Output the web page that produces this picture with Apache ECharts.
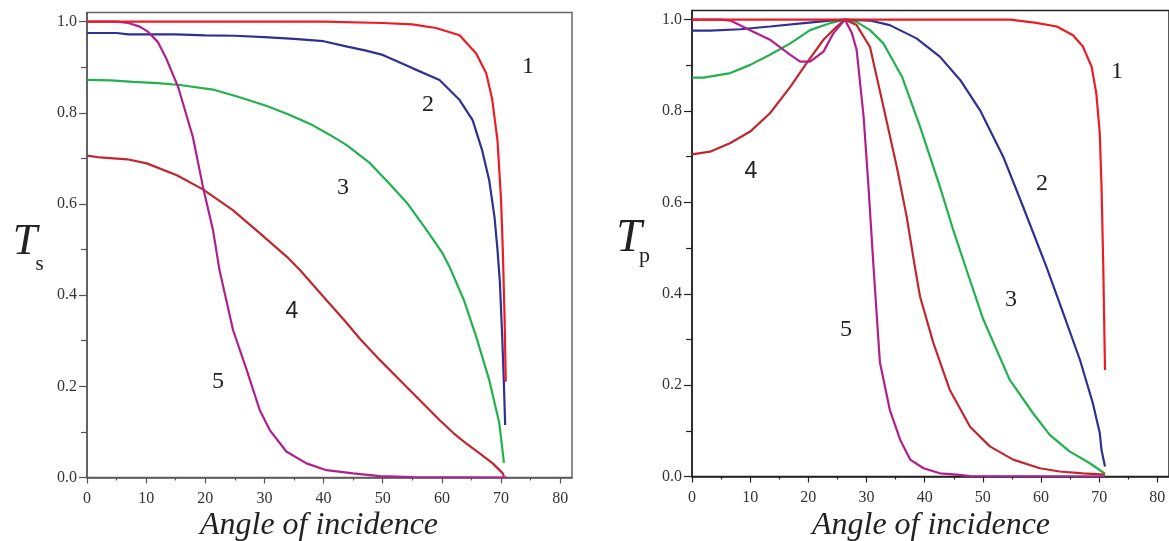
<!DOCTYPE html>
<html>
<head>
<meta charset="utf-8">
<script src="https://cdn.jsdelivr.net/npm/echarts@6/dist/echarts.min.js"></script>
<style>
  html, body { margin: 0; padding: 0; background: #fff; }
  #main { width: 1169px; height: 541px; }
</style>
</head>
<body>
<div id="main"></div>
<script>
// tick values
var xTicks = [0, 10, 20, 30, 40, 50, 60, 70, 80];
var xMinor = [5, 15, 25, 35, 45, 55, 65, 75];
var yTicks = [0, 0.2, 0.4, 0.6, 0.8, 1.0];
var yMinor = [0.1, 0.3, 0.5, 0.7, 0.9];

// T_s curves  [angle, T]
var ts1 = [[0,1],[20,1],[40,1],[50,0.997],[55,0.994],[59,0.986],[63,0.97],[65.8,0.93],[67.5,0.887],[68.5,0.83],[69.4,0.74],[70,0.61],[70.3,0.5],[70.6,0.35],[70.8,0.21]];
var ts2 = [[0,0.975],[5,0.975],[7,0.972],[15,0.972],[20,0.97],[25,0.969],[30,0.966],[35,0.962],[40,0.957],[44,0.945],[47,0.937],[50,0.927],[55,0.898],[59.6,0.872],[63,0.828],[65.2,0.784],[66.8,0.718],[68,0.652],[68.9,0.571],[69.4,0.5],[69.8,0.43],[70.2,0.31],[70.5,0.2],[70.7,0.115]];
var ts3 = [[0,0.872],[4,0.871],[7.8,0.868],[12,0.865],[15.7,0.861],[21.3,0.851],[25.8,0.834],[30.4,0.815],[34,0.797],[38.1,0.773],[41,0.752],[43.9,0.729],[47.8,0.69],[51.1,0.645],[54,0.604],[57.4,0.543],[60.1,0.492],[61.3,0.462],[63.7,0.39],[65.8,0.309],[68,0.214],[69.7,0.12],[70.5,0.032]];
var ts4 = [[0,0.706],[2.2,0.702],[6.8,0.698],[10.1,0.689],[15.2,0.663],[19.6,0.632],[24.6,0.587],[29.2,0.536],[33.8,0.484],[36,0.455],[40.5,0.389],[43.5,0.345],[46.1,0.305],[49.5,0.258],[54,0.199],[59.6,0.126],[62,0.097],[64.1,0.075],[66.5,0.052],[68.6,0.031],[70.3,0.009],[70.5,0.002]];
var ts5 = [[0,1],[5,1],[7,0.997],[8.9,0.989],[10.3,0.978],[12,0.955],[13.4,0.919],[15.4,0.857],[17.9,0.747],[19.6,0.638],[21.3,0.543],[22.4,0.455],[24.7,0.323],[27,0.236],[29.2,0.148],[30.9,0.104],[33.7,0.057],[37.1,0.031],[40.5,0.016],[45,0.009],[49.5,0.003],[55,0.001],[71,0]];

// T_p curves
var tp1 = [[0,1],[30,1],[54.7,1],[59.2,0.993],[62.7,0.985],[65.5,0.966],[67.2,0.941],[68.7,0.897],[69.5,0.839],[70.1,0.751],[70.4,0.635],[70.7,0.46],[71,0.233]];
var tp2 = [[0,0.976],[3.1,0.976],[8.3,0.979],[13.4,0.985],[19.7,0.993],[23.7,0.998],[26.3,1],[30.6,0.998],[34,0.988],[38.6,0.959],[42.6,0.919],[46.1,0.868],[49.5,0.802],[53.5,0.7],[56.9,0.591],[60.9,0.46],[63.8,0.358],[66.7,0.255],[68.9,0.161],[70.1,0.095],[70.4,0.058],[71,0.022]];
var tp3 = [[0,0.873],[2,0.873],[6.6,0.883],[10,0.901],[13.4,0.923],[16.9,0.948],[20.3,0.977],[23.7,0.992],[26.3,1],[28.3,0.995],[30.6,0.977],[32.9,0.948],[36.1,0.875],[39.2,0.766],[42.6,0.635],[44.9,0.54],[47.2,0.452],[50.1,0.343],[54.6,0.212],[58.6,0.139],[61.5,0.091],[64.9,0.055],[68.4,0.029],[71,0.006]];
var tp4 = [[0,0.705],[3.1,0.711],[6.6,0.73],[10,0.755],[13.4,0.795],[16.9,0.853],[19.7,0.905],[22.6,0.956],[24.9,0.985],[26.3,1],[28.3,0.988],[30.6,0.94],[32.9,0.81],[35.2,0.678],[36.9,0.569],[38.3,0.46],[39.2,0.394],[41.5,0.292],[44.3,0.19],[47.8,0.109],[51.2,0.066],[55.2,0.037],[59.8,0.018],[63.2,0.011],[67.2,0.007],[71,0.004]];
var tp5 = [[0,1],[5,1],[6.6,0.998],[10,0.977],[13.4,0.956],[16.9,0.923],[18.6,0.908],[20.3,0.908],[22.6,0.93],[24.3,0.97],[26.3,1],[27.5,0.97],[28.3,0.934],[29.5,0.788],[30.3,0.642],[31.2,0.46],[32.3,0.25],[34,0.146],[35.8,0.08],[37.5,0.037],[39.8,0.018],[42.6,0.007],[45.5,0.004],[47.8,0.001],[71,0]];

var colors = ['#ed1c24', '#2e3192', '#22b14c', '#c1272d', '#b01f8e'];
var serif = '"Liberation Serif", "DejaVu Serif", serif';

function mainX(grid, axisColor) {
  return {
    type: 'value', gridIndex: grid, min: 0, max: 82, position: 'bottom',
    axisLine: { onZero: false, lineStyle: { color: axisColor, width: 1.5 } },
    axisTick: { customValues: xTicks, length: 6, lineStyle: { color: axisColor, width: 1.2 } },
    axisLabel: { customValues: xTicks, margin: 13, fontFamily: serif, fontSize: 16, color: '#333' },
    splitLine: { show: false }
  };
}
function mainY(grid, axisColor) {
  return {
    type: 'value', gridIndex: grid, min: 0, max: 1.02, position: 'left',
    axisLine: { onZero: false, lineStyle: { color: axisColor, width: 1.5 } },
    axisTick: { customValues: yTicks, length: 8, lineStyle: { color: axisColor, width: 1.2 } },
    axisLabel: { customValues: yTicks, margin: 10, fontFamily: serif, fontSize: 16, color: '#333',
      formatter: function (v) { return v.toFixed(1); } },
    splitLine: { show: false }
  };
}
function minorX(grid, axisColor) {
  return {
    type: 'value', gridIndex: grid, min: 0, max: 82, position: 'bottom',
    axisLine: { show: false, onZero: false },
    axisTick: { customValues: xMinor, length: 3, lineStyle: { color: axisColor, width: 1.2 } },
    axisLabel: { show: false }, splitLine: { show: false }
  };
}
function minorY(grid, axisColor) {
  return {
    type: 'value', gridIndex: grid, min: 0, max: 1.02, position: 'left',
    axisLine: { show: false, onZero: false },
    axisTick: { customValues: yMinor, length: 6, lineStyle: { color: axisColor, width: 1.2 } },
    axisLabel: { show: false }, splitLine: { show: false }
  };
}

function line(data, idx, axis) {
  return {
    type: 'line', data: data, xAxisIndex: axis, yAxisIndex: axis,
    showSymbol: false, smooth: false,
    lineStyle: { color: colors[idx], width: 2.2 }
  };
}

function label(txt, x, y, size, family, style) {
  return {
    type: 'text', x: x, y: y, silent: true,
    style: {
      text: txt, fill: '#222', fontSize: size, fontFamily: family || serif,
      fontStyle: style || 'normal', align: 'center', verticalAlign: 'middle'
    }
  };
}

var chart = echarts.init(document.getElementById('main'));
chart.setOption({
  animation: false,
  backgroundColor: '#fff',
  grid: [
    { left: 87, top: 12.5, width: 485, height: 465, show: true, borderColor: '#666', borderWidth: 1.5 },
    { left: 692, top: 10.5, width: 478, height: 466, show: true, borderColor: '#222', borderWidth: 1.5 }
  ],
  xAxis: [mainX(0, '#555'), mainX(1, '#222'), minorX(0, '#555'), minorX(1, '#222')],
  yAxis: [mainY(0, '#555'), mainY(1, '#222'), minorY(0, '#555'), minorY(1, '#222')],
  series: [
    line(ts3, 2, 0), line(ts4, 3, 0), line(ts2, 1, 0), line(ts5, 4, 0), line(ts1, 0, 0),
    line(tp3, 2, 1), line(tp4, 3, 1), line(tp2, 1, 1), line(tp5, 4, 1), line(tp1, 0, 1)
  ],
  graphic: [
    label('Angle of incidence', 319, 526, 32, serif, 'italic'),
    label('Angle of incidence', 931, 526, 32, serif, 'italic'),
    label('T', 25, 242, 44, serif, 'italic'),
    label('s', 39.5, 264, 21),
    label('T', 629, 239, 46, serif, 'italic'),
    label('p', 644.5, 256, 22),
    // curve numbers, left
    label('1', 528, 67, 24),
    label('2', 428, 105, 24),
    label('3', 343, 188, 24),
    label('4', 292, 312, 23, '"Liberation Sans", Arial, sans-serif'),
    label('5', 218, 382, 24),
    // curve numbers, right
    label('1', 1117, 72, 24),
    label('2', 1042, 184, 24),
    label('3', 1011, 300, 24),
    label('4', 751, 172, 23, '"Liberation Sans", Arial, sans-serif'),
    label('5', 846, 330, 24)
  ]
});
</script>
</body>
</html>
